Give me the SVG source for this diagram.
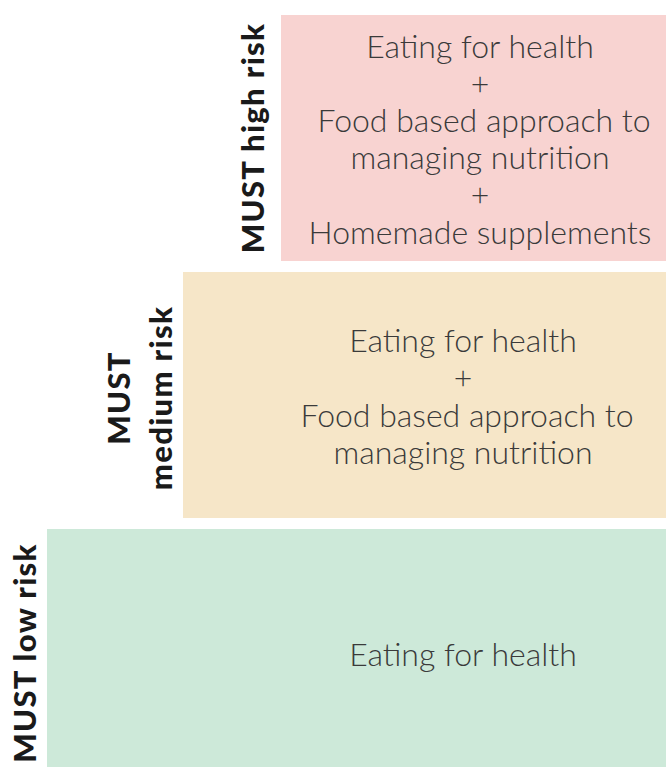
<svg xmlns="http://www.w3.org/2000/svg" width="666" height="767" viewBox="0 0 666 767">
<style>
.body{font-family:Lato,"Open Sans","Liberation Sans",sans-serif;font-weight:300;font-size:32px;fill:#3a3a3a;text-anchor:middle}
.lab{font-family:Lato,"Liberation Sans",sans-serif;font-weight:900;font-size:31px;letter-spacing:1.3px;fill:#1a1a1a;text-anchor:middle}
</style>
<rect width="666" height="767" fill="#ffffff"/>
<g id="high">
<rect x="281" y="15" width="385" height="246" fill="#f8d3d1"/>
<text class="body" x="480" y="58">Eating for health</text>
<text class="body" x="480" y="95">+</text>
<text class="body" x="484" y="132">Food based approach to</text>
<text class="body" x="480" y="169">managing nutrition</text>
<text class="body" x="480" y="206">+</text>
<text class="body" x="480" y="244">Homemade supplements</text>
<text class="lab" transform="translate(264,138) rotate(-90)">MUST high risk</text>
</g>
<g id="medium">
<rect x="183" y="272" width="483" height="246" fill="#f6e6c8"/>
<text class="body" x="463" y="352">Eating for health</text>
<text class="body" x="463" y="389">+</text>
<text class="body" x="467" y="427">Food based approach to</text>
<text class="body" x="463" y="464">managing nutrition</text>
<text class="lab" transform="translate(130,398) rotate(-90)">MUST</text>
<text class="lab" transform="translate(172,398) rotate(-90)">medium risk</text>
</g>
<g id="low">
<rect x="47" y="529" width="619" height="238" fill="#cde9d9"/>
<text class="body" x="463" y="666">Eating for health</text>
<text class="lab" transform="translate(36,653) rotate(-90)">MUST low risk</text>
</g>
<g id="connectors"/>
</svg>
